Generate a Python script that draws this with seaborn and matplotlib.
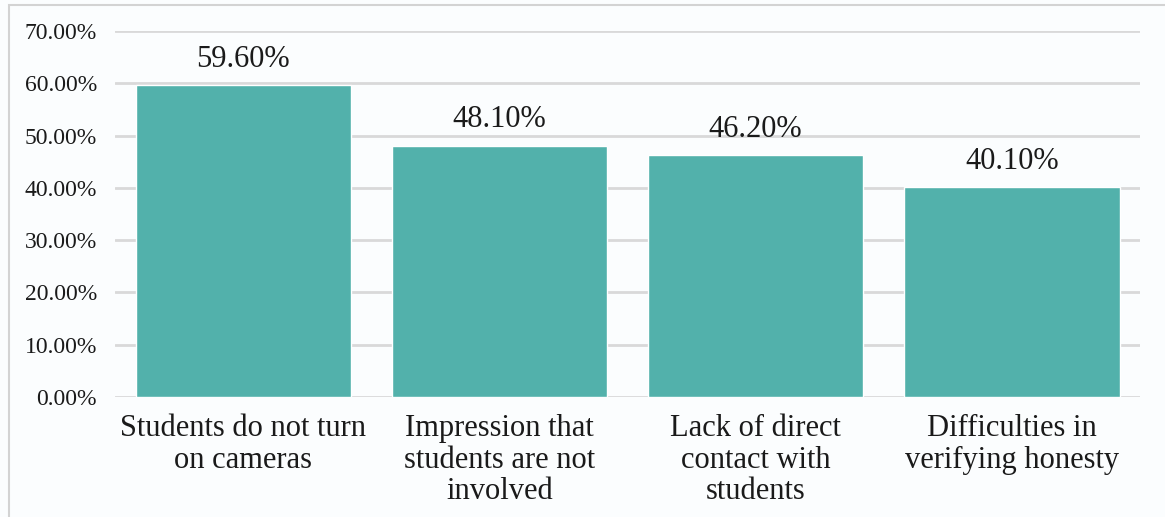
import matplotlib
matplotlib.use("Agg")
import matplotlib.pyplot as plt
from matplotlib.patches import Rectangle
from matplotlib.ticker import FuncFormatter, MultipleLocator
import seaborn as sns
import pandas as pd

categories = [
    "Students do not turn\non cameras",
    "Impression that\nstudents are not\ninvolved",
    "Lack of direct\ncontact with\nstudents",
    "Difficulties in\nverifying honesty",
]
values = [59.6, 48.1, 46.2, 40.1]
value_labels = ["59.60%", "48.10%", "46.20%", "40.10%"]

sns.set_theme(style="white")
plt.rcParams["font.family"] = ["Liberation Serif", "DejaVu Serif"]

W, H = 1165, 517
fig = plt.figure(figsize=(W / 100, H / 100), dpi=100, facecolor="#FBFDFE")
ax = fig.add_axes([115 / W, 1 - 397 / H, (1140 - 115) / W, (397 - 31) / H])
ax.set_facecolor("#FBFDFE")

df = pd.DataFrame({"category": categories, "value": values})
sns.barplot(data=df, x="category", y="value", color="#52B1AB", saturation=1,
            width=0.84, ax=ax, zorder=3)

ax.set_xlim(-0.5, 3.5)
ax.set_ylim(0, 70)
ax.yaxis.set_major_locator(MultipleLocator(10))
ax.yaxis.set_major_formatter(FuncFormatter(lambda v, p: f"{v:.2f}%"))
ax.grid(axis="y", color="#D9D9D9", linewidth=2, zorder=0)
ax.grid(axis="x", visible=False)
for s in ax.spines.values():
    s.set_visible(False)

ax.set_xlabel("")
ax.set_ylabel("")
ax.tick_params(axis="y", length=0, pad=13, labelsize=17, labelcolor="#1a1a1a")
ax.tick_params(axis="x", length=0, pad=12, labelsize=22, labelcolor="#1a1a1a")
for lbl in ax.get_xticklabels():
    lbl.set_linespacing(1.13)
    lbl.set_multialignment("center")

ax.bar_label(ax.containers[0], labels=value_labels, padding=8,
             fontsize=22, color="#1a1a1a")

# thin frame around the figure
fig.patches.append(Rectangle((9 / W, -0.1), 1.2, 1 - 5 / H + 0.1,
                             transform=fig.transFigure, fill=False,
                             edgecolor="#D3D3D3", linewidth=1.5))

fig.savefig("out.png", dpi=100, facecolor=fig.get_facecolor())
